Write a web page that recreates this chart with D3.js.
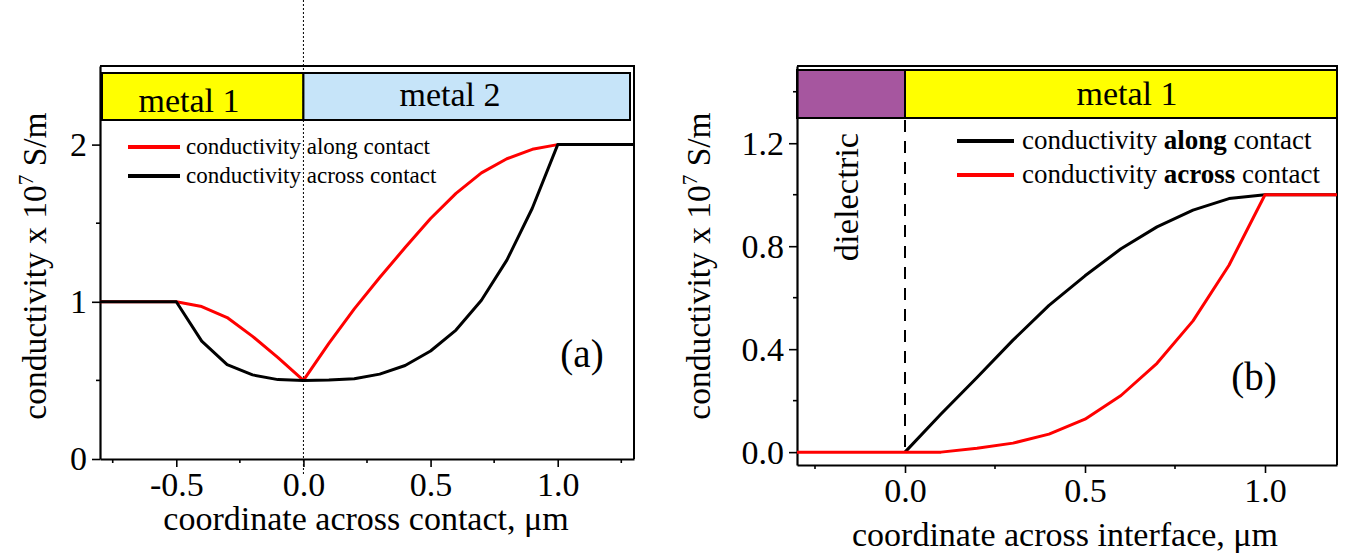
<!DOCTYPE html>
<html>
<head>
<meta charset="utf-8">
<script src="https://cdn.jsdelivr.net/npm/d3@7"></script>
<style>
  html, body { margin: 0; padding: 0; background: #fff; }
  svg { display: block; }
  text { font-family: "Liberation Serif", "Times New Roman", serif; fill: #000; }
</style>
</head>
<body>
<svg id="chart" width="1345" height="553"></svg>
<script>
// ---- Panel (a): metal 1 / metal 2 contact ----
const xA = [-0.8, -0.5, -0.4, -0.3, -0.2, -0.1, 0.0, 0.1, 0.2, 0.3, 0.4, 0.5, 0.6, 0.7, 0.8, 0.9, 1.0, 1.3];
const alongA  = [1.0, 1.0, 0.97, 0.90, 0.78, 0.645, 0.50, 0.735, 0.955, 1.155, 1.345, 1.53, 1.69, 1.82, 1.91, 1.97, 2.0, 2.0];
const acrossA = [1.0, 1.0, 0.75, 0.60, 0.535, 0.505, 0.50, 0.502, 0.51, 0.54, 0.595, 0.687, 0.82, 1.01, 1.265, 1.595, 2.0, 2.0];
const xTicksA = [-0.5, 0.0, 0.5, 1.0];
const xMinorA = [-0.75, -0.25, 0.25, 0.75, 1.25];
const yTicksA = [0, 1, 2];
const yMinorA = [0.5, 1.5];
const bandEdgesA = [-0.8, 0.0, 1.3];
const bandLabelsA = ["metal 1", "metal 2"];
const legendA = ["conductivity along contact", "conductivity across contact"];

// ---- Panel (b): dielectric / metal 1 interface ----
const xB = [-0.3, 0.0, 0.1, 0.2, 0.3, 0.4, 0.5, 0.6, 0.7, 0.8, 0.9, 1.0, 1.2];
const alongB  = [null, 0.0, 0.148, 0.29, 0.435, 0.57, 0.685, 0.79, 0.875, 0.94, 0.985, 1.0, 1.0];
const acrossB = [0.0, 0.0, 0.0, 0.015, 0.035, 0.07, 0.128, 0.22, 0.345, 0.51, 0.726, 1.0, 1.0];
const xTicksB = [0.0, 0.5, 1.0];
const xMinorB = [-0.25, 0.25, 0.75];
const yTicksB = [0.0, 0.4, 0.8, 1.2];
const yMinorB = [0.2, 0.6, 1.0, 1.4];
const bandEdgesB = [-0.3, 0.0, 1.2];
const bandLabelsB = ["", "metal 1"];
const legendB = [["conductivity ", "along", " contact"], ["conductivity ", "across", " contact"]];

const RED = "#ff0000", BLACK = "#000000";
const svg = d3.select("#chart");

// tick labels written with a plain hyphen for negatives
const fmt1 = v => d3.format(".1f")(v).replace("\u2212", "-");

function lineGen(x, y) {
  return d3.line()
    .defined(d => d[1] !== null)
    .x(d => x(d[0]))
    .y(d => y(d[1]));
}

function frameAndAxes(g, x, y, o) {
  const [x0, x1] = x.range();
  const [yb, yt] = y.range();
  // top and right frame
  g.append("path")
    .attr("d", `M${x0},${yt}H${x1}V${yb}`)
    .attr("fill", "none").attr("stroke", "#000").attr("stroke-width", 2);

  const xAxis = d3.axisBottom(x).tickValues(o.xTicks).tickFormat(fmt1)
    .tickSizeInner(8).tickSizeOuter(0).tickPadding(5);
  const gx = g.append("g").attr("transform", `translate(0,${yb})`).call(xAxis);
  gx.select(".domain").attr("stroke-width", 2.2);
  gx.selectAll(".tick line").attr("stroke-width", 1.6);
  gx.selectAll(".tick text").attr("font-size", 34).attr("font-family", "Liberation Serif, serif");
  g.append("g").selectAll("line").data(o.xMinor).join("line")
    .attr("x1", d => x(d)).attr("x2", d => x(d))
    .attr("y1", yb).attr("y2", yb + 4)
    .attr("stroke", "#000").attr("stroke-width", 1.6);

  const yAxis = d3.axisLeft(y).tickValues(o.yTicks).tickFormat(o.yFmt)
    .tickSizeInner(8).tickSizeOuter(0).tickPadding(5);
  const gy = g.append("g").attr("transform", `translate(${x0},0)`).call(yAxis);
  gy.select(".domain").attr("stroke-width", 2.2);
  gy.selectAll(".tick line").attr("stroke-width", 1.6);
  gy.selectAll(".tick text").attr("font-size", 34).attr("font-family", "Liberation Serif, serif");
  g.append("g").selectAll("line").data(o.yMinor).join("line")
    .attr("x1", x0 - 4).attr("x2", x0)
    .attr("y1", d => y(d)).attr("y2", d => y(d))
    .attr("stroke", "#000").attr("stroke-width", 1.6);
}

function yTitle(g, cx, cy) {
  const t = g.append("text")
    .attr("transform", `translate(${cx},${cy}) rotate(-90)`)
    .attr("text-anchor", "middle").attr("font-size", 33.5);
  t.append("tspan").text("conductivity x 10");
  t.append("tspan").attr("font-size", 21).attr("dy", -13).text("7");
  t.append("tspan").attr("dy", 13).text(" S/m");
}

// ================= Panel (a) =================
{
  const g = svg.append("g");
  const x = d3.scaleLinear().domain([-0.8, 1.3]).range([100, 634]);
  const y = d3.scaleLinear().domain([0, 2.5]).range([459, 66]);

  // material bands along the top
  const bandFill = ["#ffff00", "#c6e4f9"];
  const bandTop = 73, bandH = 47;
  const bands = bandLabelsA.map((l, i) => ({ l, a: bandEdgesA[i], b: bandEdgesA[i + 1], i }));
  g.selectAll("rect.band").data(bands).join("rect")
    .attr("x", d => Math.max(x(d.a), 102))
    .attr("width", d => Math.min(x(d.b), 630) - Math.max(x(d.a), 102))
    .attr("y", bandTop).attr("height", bandH)
    .attr("fill", d => bandFill[d.i]).attr("stroke", "#000").attr("stroke-width", 2);
  g.selectAll("text.band").data(bands).join("text")
    .attr("x", d => d.i === 0 ? 189 : 450)
    .attr("y", d => d.i === 0 ? 112 : 106)
    .attr("text-anchor", "middle").attr("font-size", 34)
    .text(d => d.l);

  frameAndAxes(g, x, y, { xTicks: xTicksA, xMinor: xMinorA, yTicks: yTicksA, yMinor: yMinorA, yFmt: d3.format("d") });

  // interface at x = 0
  g.append("line")
    .attr("x1", x(0)).attr("x2", x(0)).attr("y1", 0).attr("y2", 476)
    .attr("stroke", "#000").attr("stroke-width", 1).attr("stroke-dasharray", "2,2");

  const ptsAlong = xA.map((v, i) => [v, alongA[i]]);
  const ptsAcross = xA.map((v, i) => [v, acrossA[i]]);
  g.append("path").attr("d", lineGen(x, y)(ptsAlong))
    .attr("fill", "none").attr("stroke", RED).attr("stroke-width", 3).attr("stroke-linejoin", "round");
  g.append("path").attr("d", lineGen(x, y)(ptsAcross))
    .attr("fill", "none").attr("stroke", BLACK).attr("stroke-width", 3).attr("stroke-linejoin", "round");

  // legend
  const lg = g.append("g");
  [RED, BLACK].forEach((c, i) => {
    const ly = 147 + i * 29;
    lg.append("line").attr("x1", 128).attr("x2", 180).attr("y1", ly).attr("y2", ly)
      .attr("stroke", c).attr("stroke-width", 4);
    lg.append("text").attr("x", 186).attr("y", ly + 7).attr("font-size", 23).text(legendA[i]);
  });

  g.append("text").attr("x", 582).attr("y", 367).attr("text-anchor", "middle")
    .attr("font-size", 39).text("(a)");

  yTitle(g, 46, 266);
  g.append("text").attr("x", 366).attr("y", 530).attr("text-anchor", "middle")
    .attr("font-size", 34).text("coordinate across contact, \u03bcm");
}

// ================= Panel (b) =================
{
  const g = svg.append("g");
  const x = d3.scaleLinear().domain([-0.3, 1.2]).range([797, 1337]);
  const y = d3.scaleLinear().domain([-0.05, 1.5]).range([465, 66]);

  const bandFill = ["#a6569f", "#ffff00"];
  const bandTop = 70, bandH = 48;
  const bands = bandLabelsB.map((l, i) => ({ l, a: bandEdgesB[i], b: bandEdgesB[i + 1], i }));
  g.selectAll("rect.band").data(bands).join("rect")
    .attr("x", d => x(d.a)).attr("width", d => x(d.b) - x(d.a))
    .attr("y", bandTop).attr("height", bandH)
    .attr("fill", d => bandFill[d.i]).attr("stroke", "#000").attr("stroke-width", 2);
  g.selectAll("text.band").data(bands).join("text")
    .attr("x", 1127).attr("y", 105)
    .attr("text-anchor", "middle").attr("font-size", 34)
    .text(d => d.l);

  frameAndAxes(g, x, y, { xTicks: xTicksB, xMinor: xMinorB, yTicks: yTicksB, yMinor: yMinorB, yFmt: d3.format(".1f") });

  // dielectric / metal boundary
  g.append("line")
    .attr("x1", x(0)).attr("x2", x(0)).attr("y1", bandTop + bandH + 2).attr("y2", y(0))
    .attr("stroke", "#000").attr("stroke-width", 2).attr("stroke-dasharray", "12,9");

  g.append("text")
    .attr("transform", `translate(858,197) rotate(-90)`)
    .attr("text-anchor", "middle").attr("font-size", 34.5).text("dielectric");

  const ptsAlong = xB.map((v, i) => [v, alongB[i]]);
  const ptsAcross = xB.map((v, i) => [v, acrossB[i]]);
  g.append("path").attr("d", lineGen(x, y)(ptsAlong))
    .attr("fill", "none").attr("stroke", BLACK).attr("stroke-width", 3).attr("stroke-linejoin", "round");
  g.append("path").attr("d", lineGen(x, y)(ptsAcross))
    .attr("fill", "none").attr("stroke", RED).attr("stroke-width", 3).attr("stroke-linejoin", "round");

  const lg = g.append("g");
  [BLACK, RED].forEach((c, i) => {
    const ly = 141 + i * 34;
    lg.append("line").attr("x1", 957).attr("x2", 1014).attr("y1", ly).attr("y2", ly)
      .attr("stroke", c).attr("stroke-width", 4);
    const t = lg.append("text").attr("x", 1022).attr("y", ly + 8).attr("font-size", 27);
    t.append("tspan").text(legendB[i][0]);
    t.append("tspan").attr("font-weight", "bold").text(legendB[i][1]);
    t.append("tspan").text(legendB[i][2]);
  });

  g.append("text").attr("x", 1254).attr("y", 390).attr("text-anchor", "middle")
    .attr("font-size", 39).text("(b)");

  yTitle(g, 710, 266);
  g.append("text").attr("x", 1065).attr("y", 546).attr("text-anchor", "middle")
    .attr("font-size", 34).text("coordinate across interface, \u03bcm");
}
</script>
</body>
</html>
